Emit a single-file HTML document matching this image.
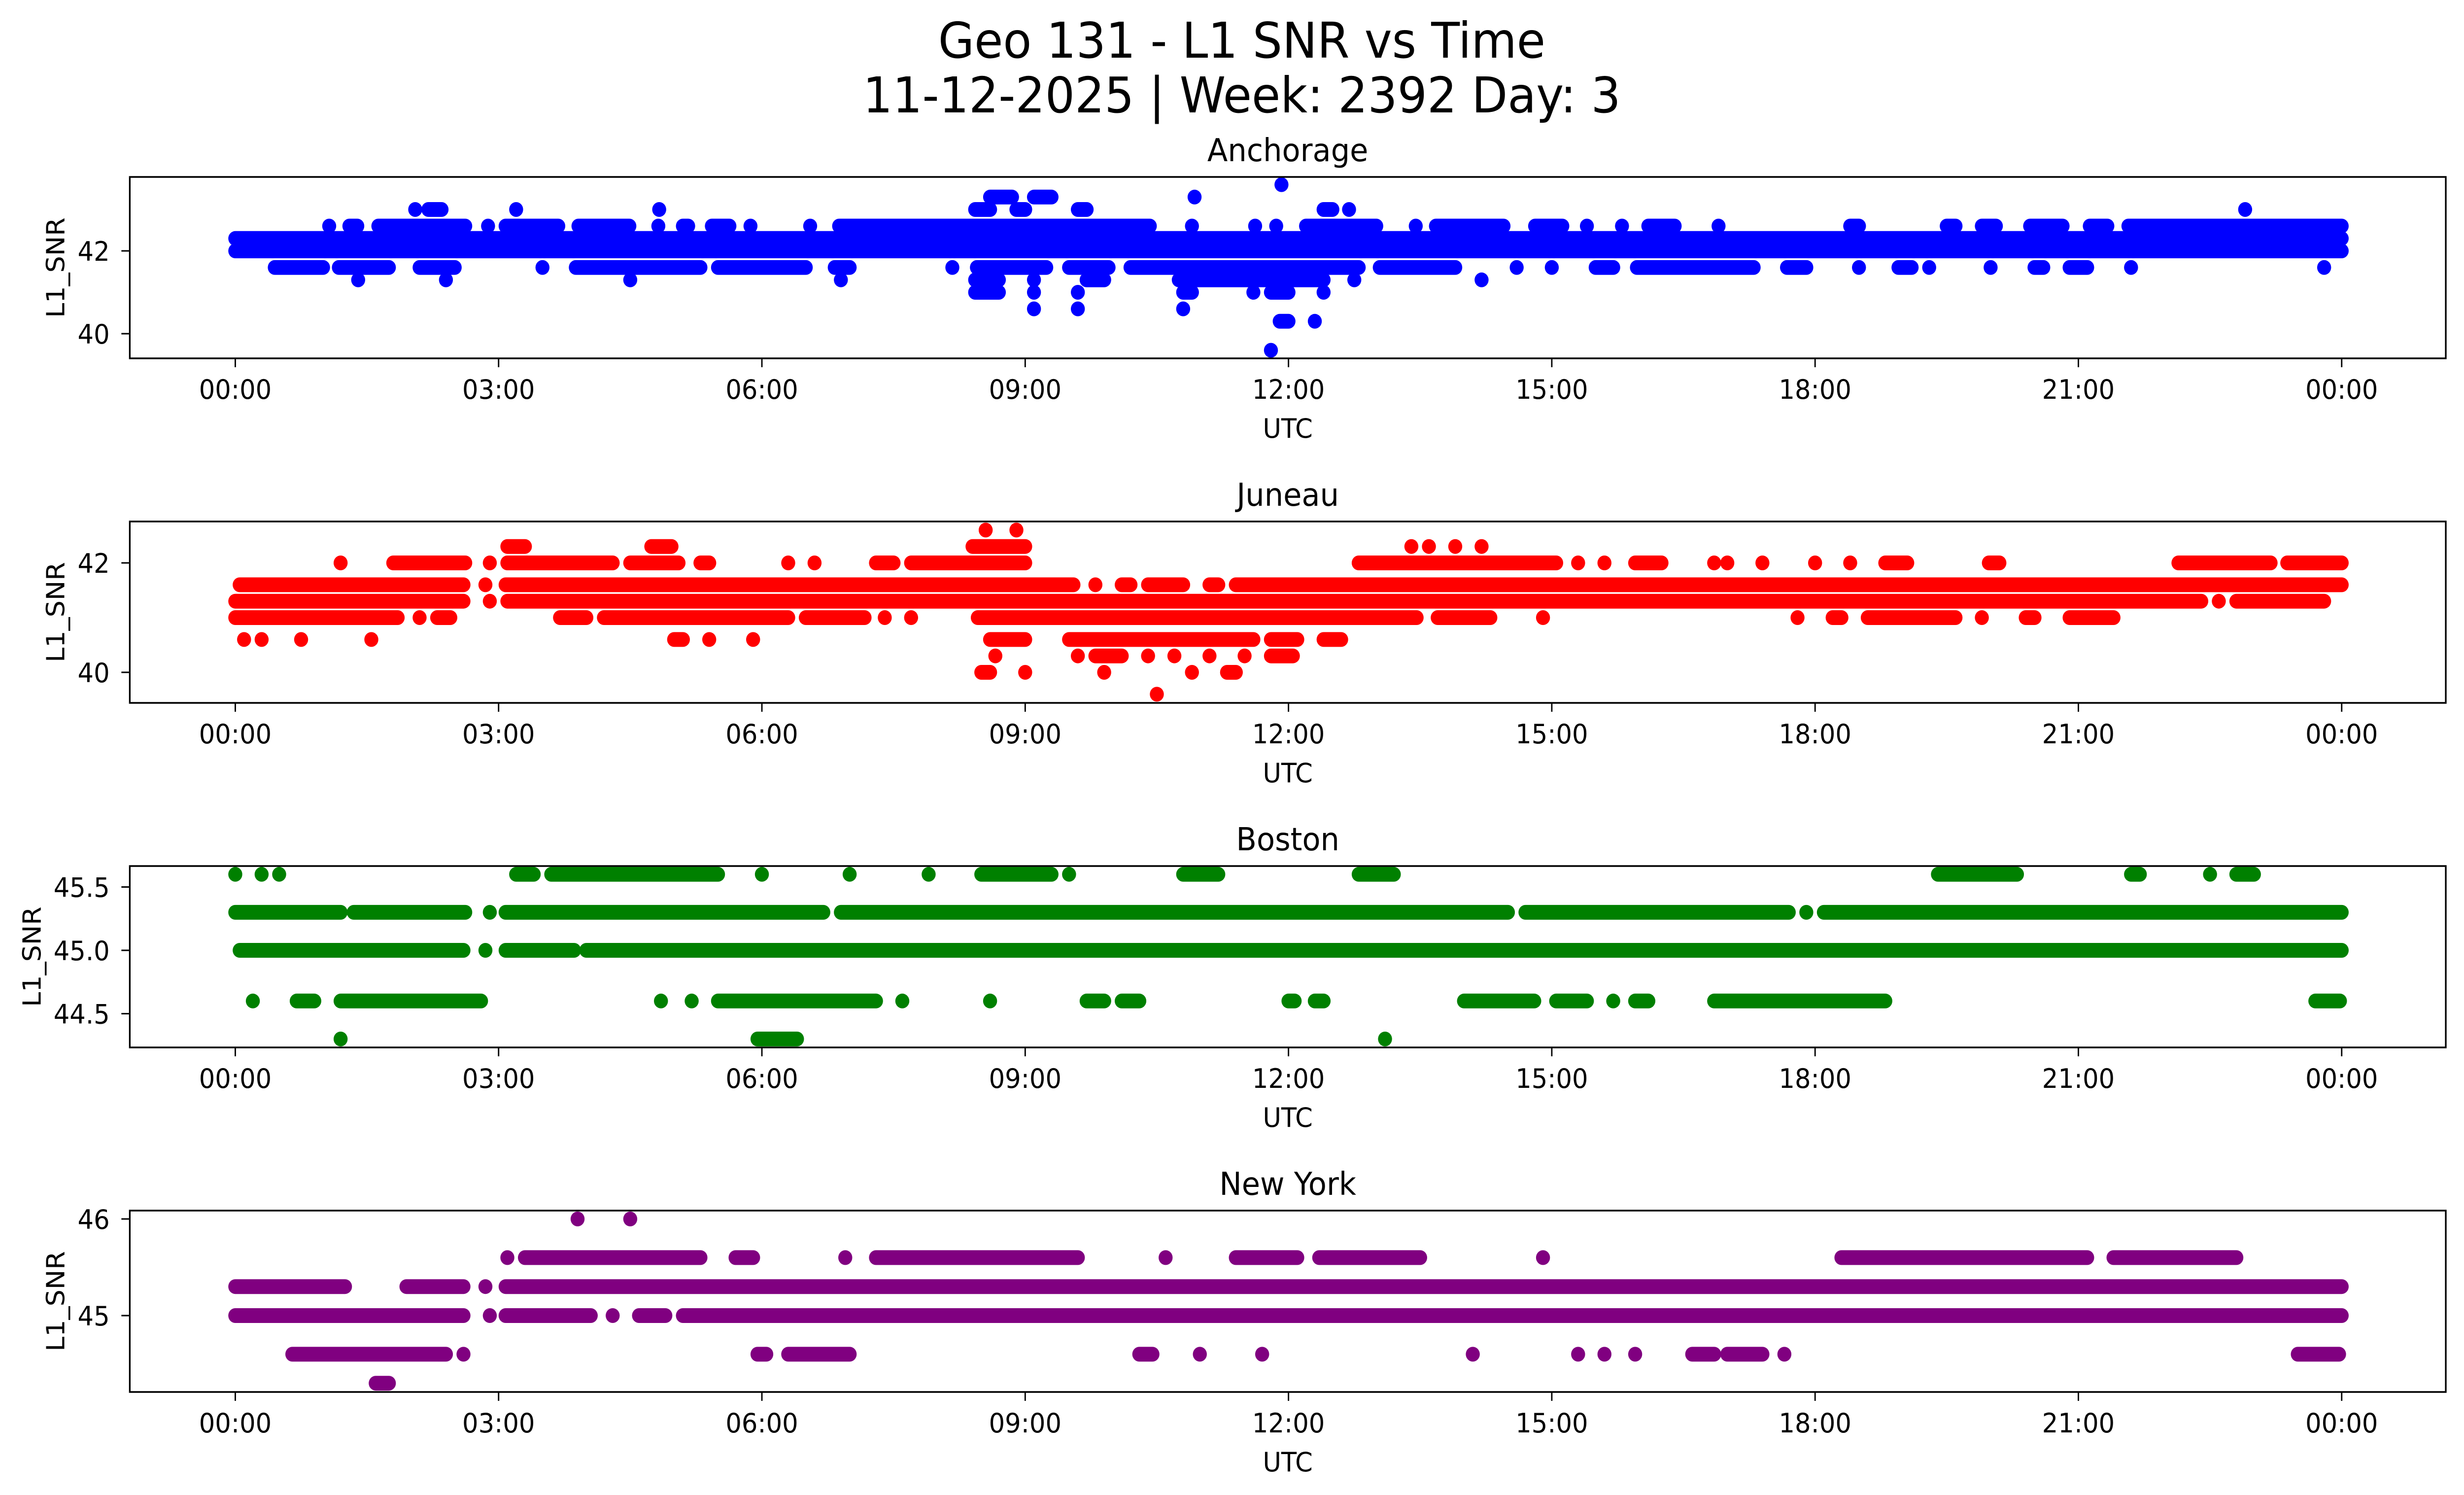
<!DOCTYPE html>
<html><head><meta charset="utf-8"><style>
html,body{margin:0;padding:0;background:#fff;width:100%;height:100%;overflow:hidden;}
svg{display:block;width:100vw;height:100vh;font-family:"DejaVu Sans","Liberation Sans",sans-serif;}
</style></head><body>
<svg id="fig" viewBox="0 0 5278 3033" preserveAspectRatio="none" xmlns="http://www.w3.org/2000/svg">
<rect x="0" y="0" width="5278" height="3033" fill="#fff"/>
<text x="2660" y="117" font-size="100" text-anchor="middle">Geo 131 - L1 SNR vs Time</text>
<text x="2660" y="228" font-size="100" text-anchor="middle">11-12-2025 | Week: 2392 Day: 3</text>
</svg>
<script>
// x ticks (hours) and labels
const xTickHours = [0,3,6,9,12,15,18,21,24];
const xTickLabels = ["00:00","03:00","06:00","09:00","12:00","15:00","18:00","21:00","00:00"];

// Anchorage: runs [startHour, endHour] per SNR level
const anchorageLevels = [43.6,43.3,43.0,42.6,42.3,42.0,41.6,41.3,41.0,40.6,40.3,39.6];
const anchorageRuns = [
 [[11.92,11.92]],
 [[8.6,8.85],[9.1,9.3],[10.93,10.93]],
 [[2.05,2.05],[2.2,2.35],[3.2,3.2],[4.83,4.83],[8.43,8.6],[8.9,9.0],[9.6,9.7],[12.4,12.5],[12.69,12.69],[22.9,22.9]],
 [[1.07,1.07],[1.3,1.39],[1.63,2.62],[2.88,2.88],[3.08,3.68],[3.91,4.49],[4.82,4.82],[5.1,5.16],[5.43,5.63],[5.87,5.87],[6.55,6.55],[6.88,10.42],[10.9,10.9],[11.62,11.62],[11.86,11.86],[12.2,13.0],[13.45,13.45],[13.68,14.45],[14.81,15.12],[15.4,15.4],[15.8,15.8],[16.1,16.4],[16.9,16.9],[18.4,18.5],[19.5,19.6],[19.9,20.06],[20.45,20.82],[21.13,21.33],[21.57,24.0]],
 [[0,24]],
 [[0,24]],
 [[0.45,1.0],[1.18,1.75],[2.1,2.5],[3.5,3.5],[3.88,5.3],[5.5,6.5],[6.83,7.0],[8.17,8.17],[8.45,9.24],[9.5,9.95],[10.2,12.8],[13.04,13.9],[14.6,14.6],[15.0,15.0],[15.5,15.7],[15.97,17.3],[17.68,17.9],[18.5,18.5],[18.95,19.1],[19.3,19.3],[20.0,20.0],[20.5,20.6],[20.9,21.1],[21.6,21.6],[23.8,23.8]],
 [[1.4,1.4],[2.4,2.4],[4.5,4.5],[6.9,6.9],[8.43,8.7],[9.1,9.1],[9.7,9.9],[10.75,12.4],[12.75,12.75],[14.2,14.2]],
 [[8.43,8.7],[9.1,9.1],[9.6,9.6],[10.8,10.9],[11.6,11.6],[11.8,12.0],[12.4,12.4]],
 [[9.1,9.1],[9.6,9.6],[10.8,10.8]],
 [[11.9,12.0],[12.3,12.3]],
 [[11.8,11.8]]
];

// Juneau
const juneauLevels = [42.6,42.3,42.0,41.6,41.3,41.0,40.6,40.3,40.0,39.6];
const juneauRuns = [
 [[8.55,8.55],[8.9,8.9]],
 [[3.1,3.3],[4.74,4.97],[8.4,9.0],[13.4,13.4],[13.6,13.6],[13.9,13.9],[14.2,14.2]],
 [[1.2,1.2],[1.8,2.62],[2.9,2.9],[3.1,4.3],[4.5,5.05],[5.3,5.4],[6.3,6.3],[6.6,6.6],[7.3,7.5],[7.7,9.0],[12.8,15.05],[15.3,15.3],[15.6,15.6],[15.95,16.25],[16.85,16.85],[17.0,17.0],[17.4,17.4],[18.0,18.0],[18.4,18.4],[18.8,19.05],[19.98,20.1],[22.14,23.19],[23.38,24.0]],
 [[0.05,2.6],[2.85,2.85],[3.08,9.55],[9.8,9.8],[10.1,10.2],[10.4,10.8],[11.1,11.2],[11.4,24.0]],
 [[0,2.6],[2.9,2.9],[3.1,22.4],[22.6,22.6],[22.8,23.8]],
 [[0,1.85],[2.1,2.1],[2.3,2.45],[3.7,4.0],[4.2,6.3],[6.5,7.17],[7.4,7.4],[7.7,7.7],[8.46,13.46],[13.7,14.3],[14.9,14.9],[17.8,17.8],[18.2,18.3],[18.6,19.6],[19.9,19.9],[20.4,20.5],[20.9,21.4]],
 [[0.1,0.1],[0.3,0.3],[0.75,0.75],[1.55,1.55],[5.0,5.1],[5.4,5.4],[5.9,5.9],[8.6,9.0],[9.5,11.6],[11.8,12.1],[12.4,12.6]],
 [[8.66,8.66],[9.6,9.6],[9.8,10.1],[10.4,10.4],[10.7,10.7],[11.1,11.1],[11.5,11.5],[11.8,12.05]],
 [[8.5,8.6],[9.0,9.0],[9.9,9.9],[10.9,10.9],[11.3,11.4]],
 [[10.5,10.5]]
];

// Boston
const bostonLevels = [45.6,45.3,45.0,44.6,44.3];
const bostonRuns = [
 [[0,0],[0.3,0.3],[0.5,0.5],[3.2,3.4],[3.6,5.5],[6.0,6.0],[7.0,7.0],[7.9,7.9],[8.5,9.3],[9.5,9.5],[10.8,11.2],[12.8,13.2],[19.4,20.3],[21.6,21.7],[22.5,22.5],[22.8,23.0]],
 [[0,1.2],[1.35,2.62],[2.9,2.9],[3.08,6.7],[6.9,14.5],[14.7,17.7],[17.9,17.9],[18.1,24.0]],
 [[0.05,2.6],[2.85,2.85],[3.08,3.86],[4.0,24.0]],
 [[0.2,0.2],[0.7,0.9],[1.2,2.8],[4.85,4.85],[5.2,5.2],[5.5,7.3],[7.6,7.6],[8.6,8.6],[9.7,9.9],[10.1,10.3],[12.0,12.07],[12.3,12.4],[14.0,14.8],[15.05,15.4],[15.7,15.7],[15.95,16.1],[16.85,18.8],[23.7,23.98]],
 [[1.2,1.2],[5.95,6.4],[13.1,13.1]]
];

// New York
const newYorkLevels = [46.0,45.6,45.3,45.0,44.6,44.3];
const newYorkRuns = [
 [[3.9,3.9],[4.5,4.5]],
 [[3.1,3.1],[3.3,5.3],[5.7,5.9],[6.95,6.95],[7.3,9.6],[10.6,10.6],[11.4,12.1],[12.35,13.5],[14.9,14.9],[18.3,21.1],[21.4,22.8]],
 [[0,1.25],[1.95,2.6],[2.85,2.85],[3.08,24.0]],
 [[0,2.6],[2.9,2.9],[3.08,4.05],[4.3,4.3],[4.6,4.9],[5.1,24.0]],
 [[0.65,2.4],[2.6,2.6],[5.95,6.05],[6.3,7.0],[10.3,10.45],[10.99,10.99],[11.7,11.7],[14.1,14.1],[15.3,15.3],[15.6,15.6],[15.95,15.95],[16.6,16.85],[17.0,17.4],[17.65,17.65],[23.5,23.97]],
 [[1.6,1.75]]
];

const yTicksA = [40,42], yTicksJ = [40,42], yTicksB = [44.5,45.0,45.5], yTicksN = [45,46];
const yTickLabelsB = ["44.5","45.0","45.5"];

const NS = "http://www.w3.org/2000/svg";
const svg = document.getElementById('fig');
const X0 = 278, X1 = 5239, XZ = 504, XPH = 188.0;
function xOf(h){ return XZ + h*XPH; }
function mk(tag, attrs, parent){ const e=document.createElementNS(NS,tag); for(const k in attrs) e.setAttribute(k,attrs[k]); (parent||svg).appendChild(e); return e; }

function panel(cfg){
  const g = mk('g',{});
  
  
  const top=cfg.top, bot=top+368;
  const yOf = v => cfg.y0 - (v-cfg.v0)*cfg.ppu;
  const t = mk('text',{x:(X0+X1)/2,y:top-32,'font-size':64,'text-anchor':'middle'},g);
  t.textContent = cfg.title;
  
  
  const clip = mk('clipPath',{id:'clip-'+cfg.key},g);
  mk('rect',{x:X0,y:top,width:X1-X0,height:bot-top},clip);
  const pts = mk('g',{'clip-path':'url(#clip-'+cfg.key+')'},g);
  
  
  cfg.levels.forEach((lv,i)=>{
    cfg.runs[i].forEach(r=>{
      const y=yOf(lv);
      let m;
      if(r[0]===r[1]){
        m = mk('circle',{cx:xOf(r[0]),cy:y,r:15,fill:cfg.color},pts);
      } else {
        m = mk('line',{x1:xOf(r[0]),y1:y,x2:xOf(r[1]),y2:y,stroke:cfg.color,'stroke-width':30,'stroke-linecap':'round'},pts);
      }
      
      
    });
  });
  const frame = mk('rect',{x:X0,y:top,width:X1-X0,height:bot-top,fill:'none',stroke:'#000','stroke-width':3.5},g);
  
  
  xTickHours.forEach((h,i)=>{
    const x=xOf(h);
    mk('line',{x1:x,y1:bot,x2:x,y2:bot+18,stroke:'#000','stroke-width':3},g);
    const l = mk('text',{x:x,y:bot+82,'font-size':54,'text-anchor':'middle'},g);
    l.textContent = xTickLabels[i];
    
    
  });
  cfg.yTicks.forEach((v,i)=>{
    const y=yOf(v);
    mk('line',{x1:X0-18,y1:y,x2:X0,y2:y,stroke:'#000','stroke-width':3},g);
    const l = mk('text',{x:235,y:y+20,'font-size':54,'text-anchor':'end'},g);
    l.textContent = cfg.yLabels ? cfg.yLabels[i] : String(v);
    
    
  });
  const xl = mk('text',{x:(X0+X1)/2,y:bot+161,'font-size':54,'text-anchor':'middle'},g);
  xl.textContent='UTC';
  
  
  const cy=(top+bot)/2;
  const lx = cfg.ylabelX;
  const yl = mk('text',{x:lx,y:cy,'font-size':54,'text-anchor':'middle',transform:'rotate(-90 '+lx+' '+cy+')'},g);
  yl.textContent='L1_SNR';
  
  
}

panel({key:'anchorage',title:'Anchorage',top:359,color:'#0000ff',levels:anchorageLevels,runs:anchorageRuns,y0:509,v0:42,ppu:84,yTicks:yTicksA,ylabelX:138});
panel({key:'juneau',title:'Juneau',top:1058,color:'#ff0000',levels:juneauLevels,runs:juneauRuns,y0:1142,v0:42,ppu:111,yTicks:yTicksJ,ylabelX:138});
panel({key:'boston',title:'Boston',top:1757,color:'#008000',levels:bostonLevels,runs:bostonRuns,y0:1928,v0:45,ppu:257,yTicks:yTicksB,yLabels:yTickLabelsB,ylabelX:87});
panel({key:'new-york',title:'New York',top:2456,color:'#800080',levels:newYorkLevels,runs:newYorkRuns,y0:2669,v0:45,ppu:196,yTicks:yTicksN,ylabelX:138});
</script>
</body></html>
